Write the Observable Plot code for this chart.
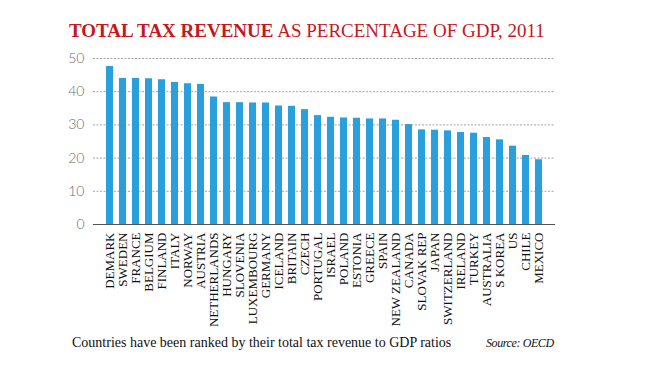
<!DOCTYPE html>
<html>
<head>
<meta charset="utf-8">
<script src="https://cdn.jsdelivr.net/npm/d3@7"></script>
<script src="https://cdn.jsdelivr.net/npm/@observablehq/plot@0.6"></script>
<style>
  html, body { margin: 0; padding: 0; background: #fff; width: 650px; height: 366px; overflow: hidden; }
  #title { padding: 19px 0 0 69px; height: 23px; line-height: 23px; font-family: "Liberation Serif", "Times New Roman", serif; font-size: 19px; color: #c8161e; white-space: nowrap; }
  #title b { font-weight: bold; }
  #chart { height: 290px; }
  #caption { position: relative; height: 18px; line-height: 18px; font-family: "Liberation Serif", "Times New Roman", serif; font-size: 14px; color: #111; white-space: nowrap; }
  #caption .note { position: absolute; left: 72px; top: 2px; }
  #caption .src { position: absolute; left: 486px; top: 2px; font-style: italic; font-size: 12px; letter-spacing: -0.4px; }
</style>
</head>
<body>
<div id="title"><b>TOTAL TAX REVENUE</b> AS PERCENTAGE OF GDP, 2011</div>
<div id="chart"></div>
<div id="caption"><span class="note">Countries have been ranked by their total tax revenue to GDP ratios</span><span class="src">Source: OECD</span></div>
<script>
const countries = ["DEMARK","SWEDEN","FRANCE","BELGIUM","FINLAND","ITALY","NORWAY","AUSTRIA","NETHERLANDS","HUNGARY","SLOVENIA","LUXEMBOURG","GERMANY","ICELAND","BRITAIN","CZECH","PORTUGAL","ISRAEL","POLAND","ESTONIA","GREECE","SPAIN","NEW ZEALAND","CANADA","SLOVAK REP","JAPAN","SWITZERLAND","IRELAND","TURKEY","AUSTRALIA","S KOREA","US","CHILE","MEXICO"];
const values = [47.6,44.0,44.0,43.9,43.6,42.8,42.4,42.2,38.4,36.7,36.7,36.6,36.6,35.7,35.6,34.6,32.8,32.3,32.1,32.0,31.8,31.8,31.4,30.1,28.5,28.4,28.2,27.7,27.5,26.2,25.5,23.6,20.8,19.5];
const yTicks = [0,10,20,30,40,50];

const data = countries.map((c, i) => ({country: c, value: values[i]}));

const chart = Plot.plot({
  width: 650,
  height: 290,
  marginLeft: 93,
  marginRight: 95,
  marginTop: 16,
  marginBottom: 108,
  style: {background: "transparent"},
  x: {type: "band", domain: countries, paddingInner: 0.48, paddingOuter: 0.66},
  y: {domain: [0, 50]},
  marks: [
    Plot.ruleY(yTicks.filter(d => d > 0), {stroke: "#8a8a8a", strokeWidth: 0.8, strokeDasharray: "2,1.5"}),
    Plot.barY(data, {x: "country", y: "value", fill: "#29a0dc"}),
    Plot.ruleY([0], {stroke: "#555", strokeWidth: 1}),
    Plot.axisY({ticks: yTicks, tickSize: 0, tickPadding: 9, label: null, fontFamily: "Lato, 'Open Sans', sans-serif", fontWeight: 300, fontSize: 14, fill: "#6b6b6b"}),
    Plot.axisX({tickSize: 0, tickPadding: 8, tickRotate: -90, label: null, fontFamily: "'Liberation Serif', 'Times New Roman', serif", fontSize: 13, fill: "#111"})
  ]
});
document.getElementById("chart").appendChild(chart);
</script>
</body>
</html>
